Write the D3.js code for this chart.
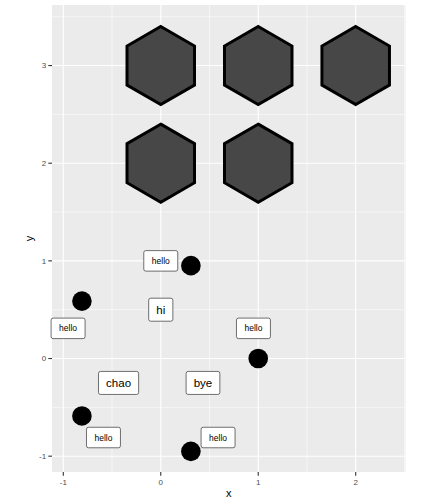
<!DOCTYPE html>
<html>
<head>
<meta charset="utf-8">
<script src="https://cdn.jsdelivr.net/npm/d3@7"></script>
<style>
  html, body { margin: 0; padding: 0; background: #fff; }
  svg { display: block; font-family: "Liberation Sans", Arial, sans-serif; }
</style>
</head>
<body>
<svg id="chart" width="432" height="504"></svg>
<script>
// ---- data ----
const hexX = [0, 1, 2, 0, 1];
const hexY = [3, 3, 3, 2, 2];
const hexRadius = 0.4;

const pointX = [1, 0.309, -0.809, -0.809, 0.309];
const pointY = [0, 0.951, 0.588, -0.588, -0.951];

const smallLabelX = [0.951, 0, -0.951, -0.588, 0.588];
const smallLabelY = [0.309, 1, 0.309, -0.809, -0.809];
const smallLabelText = ["hello", "hello", "hello", "hello", "hello"];

const bigLabelX = [0, -0.433, 0.433];
const bigLabelY = [0.5, -0.25, -0.25];
const bigLabelText = ["hi", "chao", "bye"];

const xTicks = [-1, 0, 1, 2];
const yTicks = [-1, 0, 1, 2, 3];
const xMinor = [-0.5, 0.5, 1.5, 2.5];
const yMinor = [-0.5, 0.5, 1.5, 2.5, 3.5];

// ---- layout ----
const svg = d3.select("#chart");
const pl = 52, pr = 405.5, pt = 5, pb = 472;
const x = d3.scaleLinear().domain([-1.116, 2.511]).range([pl, pr]);
const y = d3.scaleLinear().domain([-1.162, 3.62]).range([pb, pt]);

svg.append("rect").attr("x", pl).attr("y", pt)
  .attr("width", pr - pl).attr("height", pb - pt).attr("fill", "#EBEBEB");

svg.append("clipPath").attr("id", "panel").append("rect")
  .attr("x", pl).attr("y", pt).attr("width", pr - pl).attr("height", pb - pt);

const grid = svg.append("g").attr("clip-path", "url(#panel)");
grid.selectAll(".xmin").data(xMinor).enter().append("line")
  .attr("x1", d => x(d)).attr("x2", d => x(d)).attr("y1", pt).attr("y2", pb)
  .attr("stroke", "#fff").attr("stroke-width", 0.55);
grid.selectAll(".ymin").data(yMinor).enter().append("line")
  .attr("y1", d => y(d)).attr("y2", d => y(d)).attr("x1", pl).attr("x2", pr)
  .attr("stroke", "#fff").attr("stroke-width", 0.55);
grid.selectAll(".xmaj").data(xTicks).enter().append("line")
  .attr("x1", d => x(d)).attr("x2", d => x(d)).attr("y1", pt).attr("y2", pb)
  .attr("stroke", "#fff").attr("stroke-width", 1.1);
grid.selectAll(".ymaj").data(yTicks).enter().append("line")
  .attr("y1", d => y(d)).attr("y2", d => y(d)).attr("x1", pl).attr("x2", pr)
  .attr("stroke", "#fff").attr("stroke-width", 1.1);

const plot = svg.append("g").attr("clip-path", "url(#panel)");

// hexagons
const angles = [90, 30, -30, -90, -150, 150].map(a => a * Math.PI / 180);
const hexData = hexX.map((cx, i) => ({ cx, cy: hexY[i] }));
plot.selectAll(".hex").data(hexData).enter().append("path")
  .attr("d", d => "M" + angles.map(a =>
      [x(d.cx + hexRadius * Math.cos(a)), y(d.cy + hexRadius * Math.sin(a))].join(",")
    ).join("L") + "Z")
  .attr("fill", "#474747").attr("stroke", "#000").attr("stroke-width", 3)
  .attr("stroke-linejoin", "miter");

// points
plot.selectAll(".pt").data(pointX.map((px, i) => ({ px, py: pointY[i] })))
  .enter().append("circle")
  .attr("cx", d => x(d.px)).attr("cy", d => y(d.py)).attr("r", 9.8)
  .attr("fill", "#000");

// labels (not clipped)
const labelLayer = svg.append("g");
function drawLabels(xs, ys, texts, fontSize, padX, boxH) {
  const data = xs.map((lx, i) => ({ lx, ly: ys[i], t: texts[i] }));
  const g = labelLayer.selectAll(null).data(data).enter().append("g")
    .attr("transform", d => `translate(${x(d.lx)},${y(d.ly)})`);
  g.append("rect");
  const txt = g.append("text")
    .attr("text-anchor", "middle").attr("dy", "0.35em")
    .attr("font-size", fontSize).attr("fill", "#000")
    .text(d => d.t);
  txt.each(function () {
    const w = this.getComputedTextLength();
    d3.select(this.parentNode).select("rect")
      .attr("x", -w / 2 - padX).attr("y", -boxH / 2)
      .attr("width", w + 2 * padX).attr("height", boxH)
      .attr("rx", 2).attr("ry", 2)
      .attr("fill", "#fff").attr("stroke", "#333").attr("stroke-width", 0.7);
  });
}
drawLabels(smallLabelX, smallLabelY, smallLabelText, 8.5, 8, 20.5);
drawLabels(bigLabelX, bigLabelY, bigLabelText, 11.5, 7.6, 23);

// axes
const axisG = svg.append("g");
axisG.selectAll(".xt").data(xTicks).enter().append("line")
  .attr("x1", d => x(d)).attr("x2", d => x(d)).attr("y1", pb).attr("y2", pb + 3.7)
  .attr("stroke", "#333").attr("stroke-width", 1.1);
axisG.selectAll(".xl").data(xTicks).enter().append("text")
  .attr("x", d => x(d)).attr("y", pb + 13)
  .attr("text-anchor", "middle").attr("font-size", 8).attr("fill", "#4D4D4D")
  .text(d => d);
axisG.selectAll(".yt").data(yTicks).enter().append("line")
  .attr("y1", d => y(d)).attr("y2", d => y(d)).attr("x1", pl - 3.7).attr("x2", pl)
  .attr("stroke", "#333").attr("stroke-width", 1.1);
axisG.selectAll(".yl").data(yTicks).enter().append("text")
  .attr("x", pl - 5.8).attr("y", d => y(d)).attr("dy", "0.35em")
  .attr("text-anchor", "end").attr("font-size", 8).attr("fill", "#4D4D4D")
  .text(d => d);

svg.append("text").attr("x", (pl + pr) / 2).attr("y", 497)
  .attr("text-anchor", "middle").attr("font-size", 11).attr("fill", "#000").text("x");
svg.append("text").attr("transform", `translate(33,${(pt + pb) / 2}) rotate(-90)`)
  .attr("text-anchor", "middle").attr("font-size", 11).attr("fill", "#000").text("y");
</script>
</body>
</html>
